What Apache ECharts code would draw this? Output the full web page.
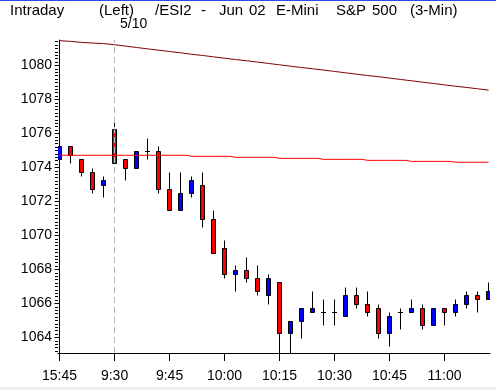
<!DOCTYPE html>
<html><head><meta charset="utf-8">
<script src="https://cdn.jsdelivr.net/npm/echarts@6/dist/echarts.min.js"></script>
<style>html,body{margin:0;padding:0;background:#fff}#c{width:496px;height:390px}</style>
</head><body><div id="c"></div><script>
// ---- data ----
const timeLabels = ['15:45','9:30','9:45','10:00','10:15','10:30','10:45','11:00'];
const timeLabelIdx = [0,5,10,15,20,25,30,35];
const priceLabels = [1064,1066,1068,1070,1072,1074,1076,1078,1080];
const openP  = [1074.5,1075.25,1074.5,1073.75,1073,1076.25,1074.5,1074,1075,1075,
                1072.75,1071.5,1072.5,1073,1071,1069.25,1067.75,1068,1067.5,1066.5,
                1067.25,1064.25,1065,1065.5,1065.5,1065.5,1065.25,1066.5,1066,1065.75,
                1064.25,1065.5,1065.5,1065.75,1064.75,1065.75,1065.5,1066,1066.5,1066.25];
const closeP = [1075.25,1074.75,1073.75,1072.75,1073.25,1074.25,1074,1075,1075,1072.75,
                1071.5,1072.5,1073.25,1071,1069,1067.75,1068,1067.5,1066.75,1067.5,
                1064.25,1065,1065.75,1065.75,1065.5,1065.5,1066.5,1066,1065.5,1064.25,
                1065.25,1065.5,1065.75,1064.75,1065.75,1065.5,1066,1066.5,1066.25,1066.75];
const lowP   = [1073.75,1074.25,1073.5,1072.5,1072.25,1074.25,1073.25,1074,1074.5,1072.5,
                1071.5,1071.5,1072.25,1070.5,1069,1067.5,1066.75,1067.25,1066.5,1066,
                1063,1063,1064,1065.5,1064.75,1064.75,1065.25,1065.75,1065.25,1064,
                1063.5,1064.5,1065.5,1064.5,1064.75,1064.75,1065.25,1065.75,1065.5,1066.25];
const highP  = [1075.25,1075.25,1074.5,1074,1073.5,1077,1074.5,1075,1075.75,1075.25,
                1073.75,1073.75,1073.5,1073.75,1071.5,1069.75,1068.25,1068.75,1068.25,1067.75,
                1067.25,1065,1065.75,1066.75,1066.25,1066.25,1067,1067,1066.75,1066,
                1065.5,1065.75,1066.25,1066,1065.75,1065.75,1066.25,1066.75,1066.75,1067.25];
const redLine = [1074.72,1074.72,1074.72,1074.72,1074.72,1074.72,1074.72,1074.72,1074.72,1074.72,
                 1074.72,1074.72,1074.66,1074.66,1074.66,1074.66,1074.6,1074.6,1074.6,1074.6,
                 1074.54,1074.54,1074.54,1074.54,1074.48,1074.48,1074.48,1074.48,1074.42,1074.42,
                 1074.42,1074.42,1074.36,1074.36,1074.36,1074.36,1074.31,1074.31,1074.31,1074.31];
const darkRedLine = [1081.46,1081.42,1081.36,1081.32,1081.29,1081.22,1081.14,1081.06,1080.98,1080.90,
                     1080.82,1080.75,1080.66,1080.59,1080.51,1080.43,1080.35,1080.28,1080.20,1080.12,
                     1080.04,1079.96,1079.88,1079.81,1079.73,1079.65,1079.57,1079.49,1079.41,1079.34,
                     1079.26,1079.18,1079.10,1079.02,1078.94,1078.86,1078.78,1078.71,1078.63,1078.55];
const dayBreakIdx = 5;
const dayBreakLabel = '5/10';
const titleParts = ['Intraday','(Left)','/ESI2','-','Jun','02','E-Mini','S&P','500','(3-Min)'];
// ---- build ----
const titleX = [10,99,155,201,219,249,276,336,372,410];
const yMin = 1063.09, yMax = 1081.5;
const minorTicks = [];
for (let v = 1063.2; v <= 1081.45; v += 0.2) minorTicks.push(+v.toFixed(2));
const candles = openP.map((o,i)=>[i,o,closeP[i],lowP[i],highP[i]]);
const FAM = '"Liberation Sans", Arial, sans-serif';
const FONT = '15px ' + FAM;

function renderItem(params, api){
  const i = api.value(0), o = api.value(1), c = api.value(2), l = api.value(3), h = api.value(4);
  const pO = api.coord([i,o]), pC = api.coord([i,c]), pL = api.coord([i,l]), pH = api.coord([i,h]);
  const x = Math.floor(pO[0]) + 0.5;
  const r = y => Math.round(y) + 0.5;
  const kids = [];
  kids.push({type:'line', shape:{x1:x,y1:r(pH[1]),x2:x,y2:r(pL[1])}, style:{stroke:'#000',lineWidth:1}});
  if (o === c){
    kids.push({type:'line', shape:{x1:x-2.5,y1:r(pO[1]),x2:x+2.5,y2:r(pO[1])}, style:{stroke:'#000',lineWidth:1}});
  } else {
    const top = r(Math.min(pO[1],pC[1])), bot = r(Math.max(pO[1],pC[1]));
    kids.push({type:'rect', shape:{x:x-2,y:top,width:4,height:bot-top},
      style:{fill: c>o ? '#0000ff' : '#ff0000', stroke:'#000', lineWidth:1}});
  }
  return {type:'group', children:kids};
}

const graphics = [
  {type:'rect',shape:{x:0,y:0,width:496,height:1},style:{fill:'#2a4fe0'}},
  {type:'rect',shape:{x:0,y:387,width:496,height:3},style:{fill:'#efefef'}},
  {type:'text',x:120,y:24,style:{text:dayBreakLabel,font:'14px '+FAM,fill:'#000',textVerticalAlign:'middle'}}
];
titleParts.forEach((t,k)=>graphics.push({type:'text',x:titleX[k],y:11,
  style:{text:t,font:FONT,fill:'#000',textVerticalAlign:'middle'}}));

const chart = echarts.init(document.getElementById('c'), null, {renderer:'canvas'});
chart.setOption({
  animation:false,
  backgroundColor:'#ffffff',
  grid:{left:58,right:6,top:40,bottom:37,containLabel:false},
  xAxis:{type:'value',min:-0.14,max:39.13,
    axisLine:{show:true,lineStyle:{color:'#000',width:1}},
    axisTick:{show:true,customValues:timeLabelIdx,length:8,lineStyle:{color:'#000'}},
    axisLabel:{customValues:timeLabelIdx,formatter:v=>timeLabels[timeLabelIdx.indexOf(v)],
      margin:16,color:'#000',fontSize:14,fontFamily:FAM},
    splitLine:{show:false}},
  yAxis:[
    {type:'value',min:yMin,max:yMax,position:'left',
     axisLine:{show:true,lineStyle:{color:'#000',width:1}},
     axisTick:{show:true,customValues:priceLabels,length:5,lineStyle:{color:'#000'}},
     axisLabel:{customValues:priceLabels,formatter:v=>String(v),margin:6,color:'#000',fontSize:14,fontFamily:FAM},
     splitLine:{show:false}},
    {type:'value',min:yMin,max:yMax,position:'left',
     axisLine:{show:false},
     axisTick:{show:true,customValues:minorTicks,length:3,lineStyle:{color:'#000'}},
     axisLabel:{show:false},splitLine:{show:false}}
  ],
  series:[
    {type:'custom',renderItem,data:candles,clip:true,silent:true,z:2,
     encode:{x:0,y:[1,2,3,4]}},
    {type:'line',data:redLine.map((v,i)=>[i,v]),step:'middle',symbol:'none',silent:true,z:3,
     lineStyle:{color:'#ff0000',width:1},
     markLine:{silent:true,symbol:['none','none'],label:{show:false},
       lineStyle:{color:'#b8b8b8',type:[6,4],width:1},data:[{xAxis:dayBreakIdx}]}},
    {type:'line',data:darkRedLine.map((v,i)=>[i,v]),symbol:'none',silent:true,z:3,
     lineStyle:{color:'#800000',width:1}}
  ],
  graphic:graphics
});
</script></body></html>
